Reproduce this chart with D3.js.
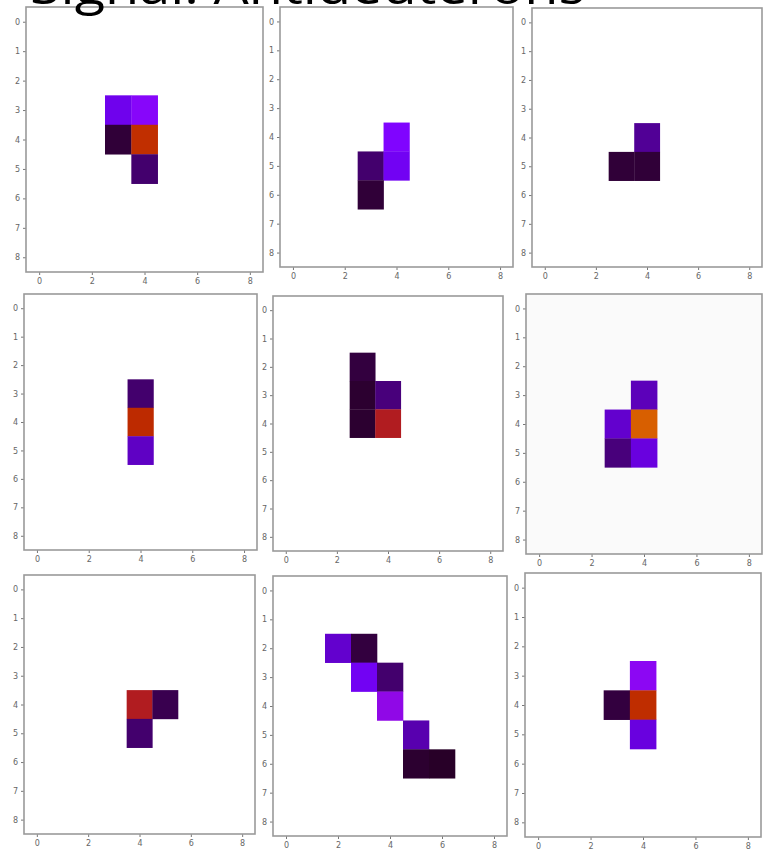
<html>
<head>
    <style>
        body { margin: 0; background: #fff; }
        .tick text { fill: #666; font-family: "DejaVu Sans", sans-serif; }
        .tick line { stroke: #777; }
    </style>
    <script src="https://cdn.jsdelivr.net/npm/d3@7"></script>
</head>
<body>
    <svg id="container" width="764" height="851"></svg>
</body>
<script>
    // cells per panel: [row, col, value]  (value on 0..1, empty cells are masked)
    let panel1 = [[3,3,0.19],[3,4,0.28],[4,3,0.035],[4,4,0.57],[5,4,0.07]]
    let panel2 = [[4,4,0.25],[5,3,0.07],[5,4,0.2],[6,3,0.035]]
    let panel3 = [[4,4,0.1],[5,3,0.035],[5,4,0.035]]
    let panel4 = [[3,4,0.07],[4,4,0.55],[5,4,0.14]]
    let panel5 = [[2,3,0.04],[3,3,0.03],[4,3,0.03],[3,4,0.08],[4,4,0.48]]
    let panel6 = [[3,4,0.13],[4,3,0.15],[4,4,0.72],[5,3,0.08],[5,4,0.17]]
    let panel7 = [[4,4,0.48],[4,5,0.05],[5,4,0.07]]
    let panel8 = [[2,2,0.15],[2,3,0.04],[3,3,0.2],[3,4,0.07],[4,4,0.32],[5,5,0.12],[6,5,0.03],[6,6,0.025]]
    let panel9 = [[3,4,0.3],[4,3,0.04],[4,4,0.56],[5,4,0.17]]
    let panels = [panel1, panel2, panel3, panel4, panel5, panel6, panel7, panel8, panel9]

    let rowTicks = [0,1,2,3,4,5,6,7,8]
    let colTicks = [0,2,4,6,8]
    let title = "Signal: Antideuterons"

    // frame of each panel on the slide: left, right, top, bottom
    let frames = [
        [26, 263, 7, 272], [280, 513, 7, 267], [532, 762, 8, 267],
        [24, 257, 294, 550], [273, 503, 296, 551], [526, 762, 294, 554],
        [24, 255, 575, 834], [273, 507, 576, 836], [525, 761, 573, 837]
    ]

    // matplotlib "gnuplot" colormap
    let gnuplot = t => d3.rgb(255 * Math.sqrt(t), 255 * t * t * t,
        255 * Math.max(0, Math.sin(2 * Math.PI * t))).toString()
    let color = d3.scaleSequential(gnuplot).domain([0, 1])

    let svg = d3.select("#container")

    panels.forEach((cells, i) => {
        let [l, r, t, b] = frames[i]
        let x = d3.scaleLinear().domain([-0.5, 8.5]).range([l, r])
        let y = d3.scaleLinear().domain([-0.5, 8.5]).range([t, b])
        let g = svg.append("g")

        g.append("rect")
            .attr("x", l).attr("y", t)
            .attr("width", r - l).attr("height", b - t)
            .attr("fill", i == 5 ? "#fafafa" : "#fff")

        g.selectAll("rect.cell")
            .data(cells)
            .enter().append("rect")
            .attr("class", "cell")
            .attr("x", d => x(d[1] - 0.5))
            .attr("y", d => y(d[0] - 0.5))
            .attr("width", x(1) - x(0) + 0.3)
            .attr("height", y(1) - y(0) + 0.3)
            .attr("fill", d => color(d[2]))

        g.append("g")
            .attr("transform", `translate(${l},0)`)
            .call(d3.axisLeft(y).tickValues(rowTicks).tickSize(3).tickPadding(3))
            .call(a => a.select(".domain").remove())
            .selectAll("text").style("font-size", "8px")

        g.append("g")
            .attr("transform", `translate(0,${b})`)
            .call(d3.axisBottom(x).tickValues(colTicks).tickSize(3).tickPadding(3))
            .call(a => a.select(".domain").remove())
            .selectAll("text").style("font-size", "8px")

        g.append("rect")
            .attr("x", l).attr("y", t)
            .attr("width", r - l).attr("height", b - t)
            .attr("fill", "none")
            .attr("stroke", "#9a9a9a")
            .attr("stroke-width", 1.6)
    })

    svg.append("text")
        .attr("x", 30)
        .attr("y", 4)
        .attr("textLength", 555)
        .attr("lengthAdjust", "spacingAndGlyphs")
        .style("font-family", "'Open Sans', 'Liberation Sans', sans-serif")
        .style("font-size", "50px")
        .attr("fill", "#000")
        .text(title)
</script>
</html>
